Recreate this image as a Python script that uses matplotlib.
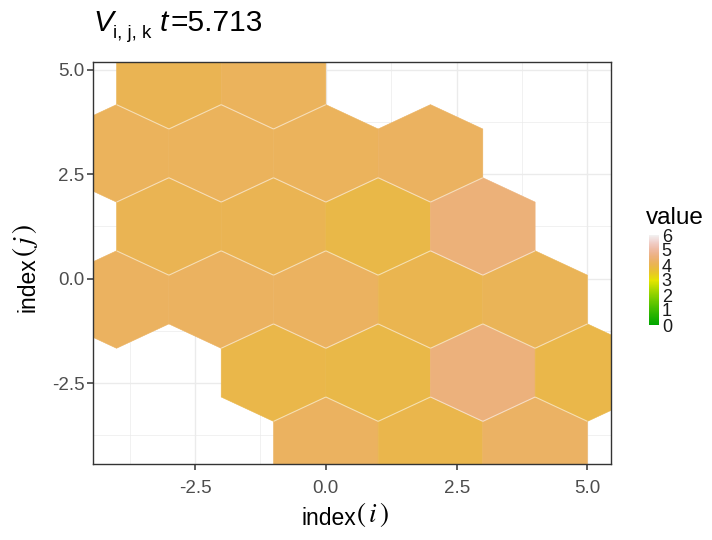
import numpy as np
import matplotlib
matplotlib.use("Agg")
import matplotlib.pyplot as plt
from matplotlib.collections import PolyCollection, LineCollection
from matplotlib.colors import LinearSegmentedColormap, Normalize, hsv_to_rgb
import matplotlib.cm as cm

# hexagon centres: index(i), index(j) and the value in each cell
hex_i = [0, 2, 4,
         -1, 1, 3, 5,
         -4, -2, 0, 2, 4,
         -3, -1, 1, 3,
         -4, -2, 0, 2,
         -3, -1]
hex_j = [-4.0] * 3 + [-2.25] * 4 + [-0.5] * 5 + [1.25] * 4 + [3.0] * 4 + [4.75] * 2
hex_value = [4.2, 3.95, 4.25,
             3.92, 3.9, 4.55, 3.92,
             4.2, 4.2, 4.2, 4.0, 4.1,
             4.05, 4.05, 3.9, 4.5,
             4.15, 4.15, 4.15, 4.2,
             4.05, 4.15]
legend_ticks = [0, 1, 2, 3, 4, 5, 6]
title_t = "5.713"

W, H = 712, 540


def terrain_colors(n):
    # same recipe as R's terrain.colors()
    k = n // 2
    m = n - k + 1
    h = np.r_[np.linspace(4 / 12, 2 / 12, k), np.linspace(2 / 12, 0, m)[1:]]
    s = np.r_[np.ones(k), np.linspace(1, 0, m)[1:]]
    v = np.r_[np.linspace(0.65, 0.9, k), np.linspace(0.9, 0.95, m)[1:]]
    return hsv_to_rgb(np.column_stack([h, s, v]))


def text_run(fig, x, y, pieces, vertical=False, center=False):
    # lay out text pieces one after another (pixel coords, y from top)
    rend = fig.canvas.get_renderer()
    made = []
    for s, props, shift, gap in pieces:
        kw = dict(ha="left", va="baseline")
        if vertical:
            kw.update(rotation=90, rotation_mode="anchor")
        t = fig.text(0, 0, s, **kw, **props)
        bb = t.get_window_extent(rend)
        made.append((t, shift, (bb.height if vertical else bb.width) + gap))
    total = sum(m[2] for m in made)
    pos = (y + total / 2 if vertical else x - total / 2) if center else (y if vertical else x)
    for t, shift, size in made:
        if vertical:
            t.set_position(((x - shift) / W, 1 - pos / H))
            pos -= size
        else:
            t.set_position((pos / W, 1 - (y - shift) / H))
            pos += size


cmap = LinearSegmentedColormap.from_list("terrain", terrain_colors(100))
norm = Normalize(0, 6)

plt.rcParams['font.family'] = ['Liberation Sans', 'DejaVu Sans']
plt.rcParams['mathtext.fontset'] = 'stix'

fig = plt.figure(figsize=(7.12, 5.4), dpi=100)
ax = fig.add_axes([93 / W, 76 / H, 518 / W, 402 / H])

R = 1.75 / 1.5  # half height of a hexagon
polys = []
for x, y in zip(hex_i, hex_j):
    polys.append([(x, y + R), (x + 1, y + R / 2), (x + 1, y - R / 2),
                  (x, y - R), (x - 1, y - R / 2), (x - 1, y + R / 2)])
pc = PolyCollection(polys, cmap=cmap, norm=norm, linewidths=0.4, zorder=2)
pc.set_array(np.array(hex_value))
pc.set_edgecolor("face")
ax.add_collection(pc)

# faint light seams along the upper slanted edges
cells = set(zip(hex_i, hex_j))
seams = []
for x, y in zip(hex_i, hex_j):
    up = y + 1.75
    if (x - 1, up) in cells:
        seams.append([(x - 1, y + R / 2), (x, y + R)])
    if (x + 1, up) in cells:
        seams.append([(x, y + R), (x + 1, y + R / 2)])
ax.add_collection(LineCollection(seams, colors="white", linewidths=0.8,
                                 alpha=0.55, zorder=3))

ax.set_xlim(-4.45, 5.45)
ax.set_ylim(-4.4375, 5.1875)
ax.set_xticks([-2.5, 0, 2.5, 5])
ax.set_yticks([-2.5, 0, 2.5, 5])
ax.set_xticks([-3.75, -1.25, 1.25, 3.75], minor=True)
ax.set_yticks([-3.75, -1.25, 1.25, 3.75], minor=True)
ax.set_xticklabels(["-2.5", "0.0", "2.5", "5.0"])
ax.set_yticklabels(["-2.5", "0.0", "2.5", "5.0"])
ax.grid(which="major", color="#EBEBEB", linewidth=1.0, zorder=0)
ax.grid(which="minor", color="#EBEBEB", linewidth=0.5, zorder=0)
ax.set_axisbelow(True)
ax.tick_params(which="major", length=4.5, width=1.1, color="#333333",
               labelsize=13.5, labelcolor="#4D4D4D")
ax.tick_params(axis="x", which="major", pad=7)
ax.tick_params(axis="y", which="major", pad=1.5)
ax.tick_params(which="minor", length=0)
for sp in ax.spines.values():
    sp.set_color("#333333")
    sp.set_linewidth(1.0)
    sp.set_zorder(5)

sans = dict(fontsize=16.5, color="black")
paren = dict(fontsize=19.5, color="black")
text_run(fig, 345, 525, [("index", sans, 0, 0), (r"$(\,i\,)$", paren, 3, 0)],
         center=True)
text_run(fig, 35, 268, [("index", sans, 0, 0), (r"$(\,j\,)$", paren, 3, 0)],
         vertical=True, center=True)

# title: V_{i,j,k} t=5.713
big = dict(fontsize=21.5, color="black")
big_it = dict(fontsize=21.5, color="black", style="italic")
sub = dict(fontsize=13.5, color="black")
text_run(fig, 93, 31, [("V", big_it, 0, 0), ("i, j, k", sub, -6.5, 0),
                       (" ", big, 0, 0), ("t", big_it, 0, 3),
                       ("=" + title_t, big, 0, 0)])

# colour bar legend
fig.text(646 / W, 1 - 218 / H, "value", fontsize=17.5, va="center")
cax = fig.add_axes([649 / W, (H - 325) / H, 10 / W, 90 / H])
sm = cm.ScalarMappable(norm=norm, cmap=cmap)
cb = fig.colorbar(sm, cax=cax, ticks=legend_ticks)
cb.outline.set_visible(False)
cax.tick_params(length=0, labelsize=13, pad=2, labelcolor="#1A1A1A")

fig.savefig("out.png", dpi=100)
